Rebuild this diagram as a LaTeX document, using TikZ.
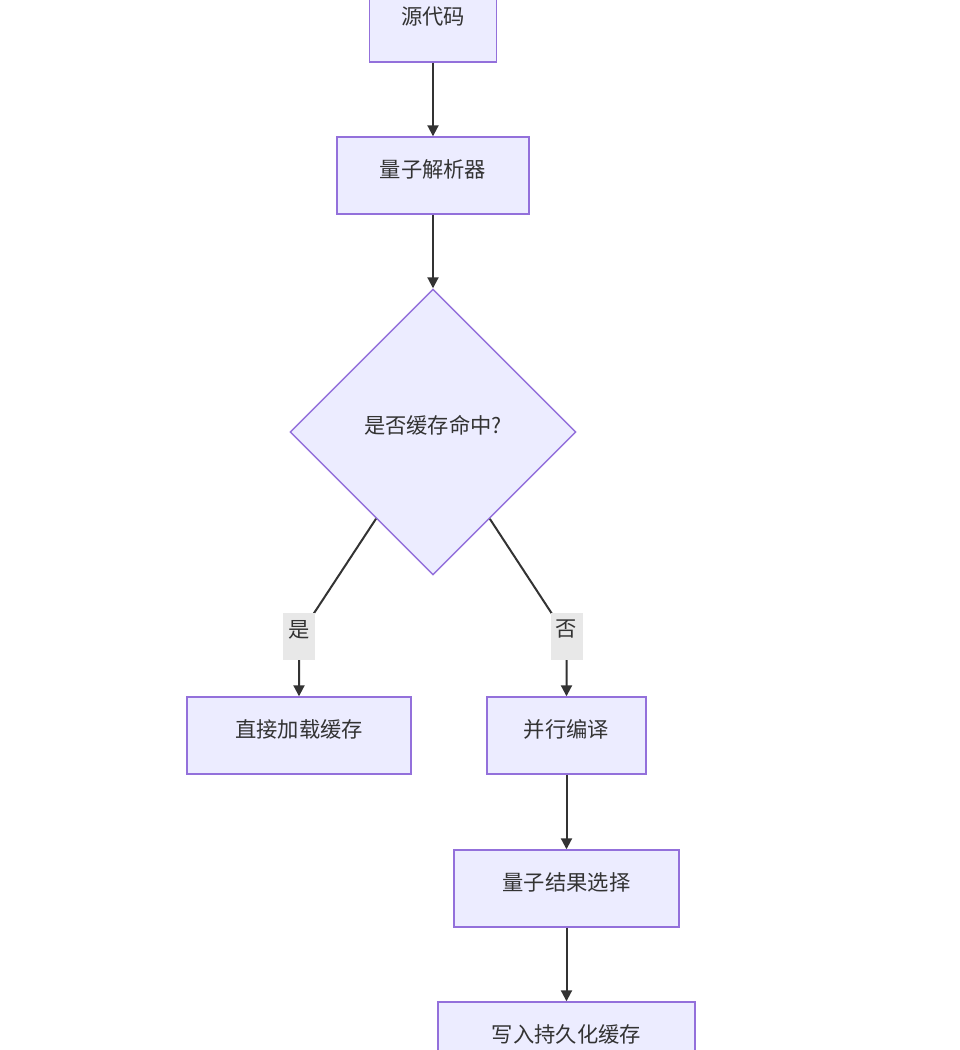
\documentclass[tikz,border=0pt]{standalone}
\usepackage{fontspec}
\setmainfont{Noto Sans CJK SC}
\usetikzlibrary{arrows.meta,shapes.geometric}
\definecolor{boxfill}{HTML}{ECECFF}
\definecolor{boxline}{HTML}{9370DB}
\definecolor{edgecol}{HTML}{333333}
\definecolor{lblfill}{HTML}{E8E8E8}
\tikzset{
  procbox/.style={draw=boxline, fill=boxfill, line width=1.4pt, minimum height=77pt, inner sep=0pt},
  decbox/.style={diamond, draw=boxline, fill=boxfill, line width=1.4pt, minimum width=286pt, minimum height=286pt, inner sep=0pt, aspect=1},
  txt/.style={text=edgecol, font=\fontsize{21.3pt}{24pt}\selectfont, inner sep=0pt, yshift=6.5pt},
  lblbox/.style={fill=lblfill, minimum width=32pt, minimum height=47pt, inner sep=0pt},
  edge/.style={draw=edgecol, line width=2pt, -{Triangle[length=11pt,width=11pt]}}
}
\begin{document}
\begin{tikzpicture}[x=1pt,y=-1pt]
\useasboundingbox (0,0) rectangle (960,1050);
\clip (0,0) rectangle (960,1050);
% nodes
\node[procbox, minimum width=127pt] (src) at (433,23.5) {};
\node[txt] (srct) at (src.center) {源代码};
\node[procbox, minimum width=192pt] (parse) at (433,175.5) {};
\node[txt] (parset) at (parse.center) {量子解析器};
\node[decbox] (dia) at (433,432) {};
\node[txt] (diat) at (dia.center) {是否缓存命中?};
\node[procbox, minimum width=224pt] (direct) at (299,735.5) {};
\node[txt] (directt) at (direct.center) {直接加载缓存};
\node[procbox, minimum width=159pt] (comp) at (566.5,735.5) {};
\node[txt] (compt) at (comp.center) {并行编译};
\node[procbox, minimum width=225pt] (sel) at (566.5,888.5) {};
\node[txt] (selt) at (sel.center) {量子结果选择};
\node[procbox, minimum width=257pt] (write) at (566.5,1040.5) {};
\node[txt] (writet) at (write.center) {写入持久化缓存};
% edge bend points
\coordinate (yb) at (299,636);
\coordinate (nb) at (566.5,636);
% edges
\draw[edge] (src) -- (parse);
\draw[edge] (parse) -- (dia);
\draw[edge] (dia) -- (yb) -- (direct);
\draw[edge] (dia) -- (nb) -- (comp);
\draw[edge] (comp) -- (sel);
\draw[edge] (sel) -- (write);
% edge labels
\node[lblbox] (yl) at (yb) {};
\node[txt] (ylt) at (yl.center) {是};
\node[lblbox] (nl) at (nb) {};
\node[txt] (nlt) at (nl.center) {否};
\end{tikzpicture}
\end{document}
